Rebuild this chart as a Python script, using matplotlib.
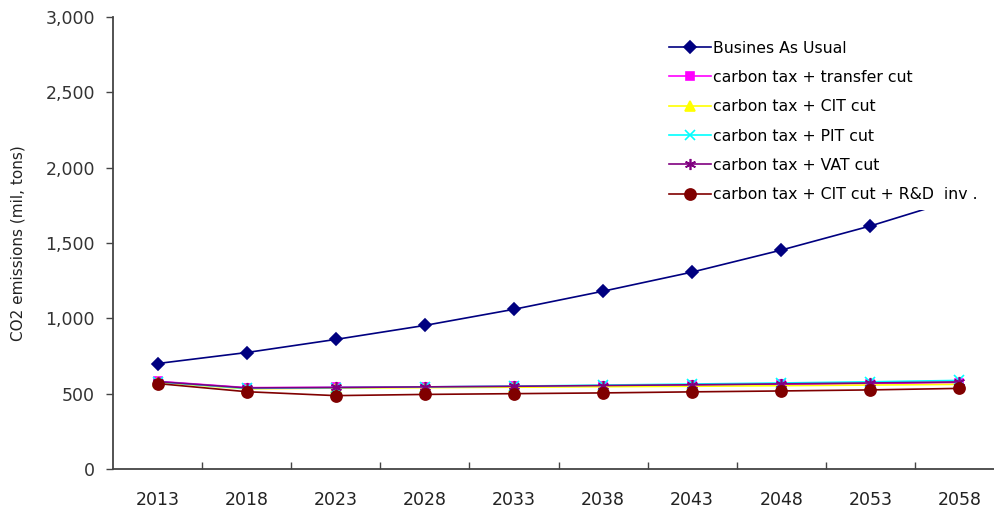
import matplotlib
matplotlib.use("Agg")
import matplotlib.pyplot as plt
import numpy as np

plt.rcParams['font.family'] = ['DejaVu Sans']

years = ["2013", "2018", "2023", "2028", "2033", "2038", "2043", "2048", "2053", "2058"]

bau = [700, 773, 860, 953, 1060, 1180, 1307, 1453, 1613, 1795]
transfer_cut = [582, 540, 542, 545, 548, 552, 556, 561, 567, 574]
cit_cut = [575, 532, 537, 540, 543, 546, 549, 553, 557, 562]
pit_cut = [578, 535, 540, 545, 550, 557, 564, 571, 579, 588]
vat_cut = [580, 538, 541, 545, 549, 554, 559, 565, 571, 578]
cit_rd = [567, 513, 487, 495, 500, 505, 512, 518, 525, 535]

series = [
    ("Busines As Usual", bau, "#000080", "D", 6),
    ("carbon tax + transfer cut", transfer_cut, "#FF00FF", "s", 6),
    ("carbon tax + CIT cut", cit_cut, "#FFFF00", "^", 7),
    ("carbon tax + PIT cut", pit_cut, "#00FFFF", "x", 7),
    ("carbon tax + VAT cut", vat_cut, "#800080", (6, 2, 0), 8),
    ("carbon tax + CIT cut + R&D  inv .", cit_rd, "#800000", "o", 8),
]

fig = plt.figure(figsize=(9.95, 5.08), dpi=100)
ax = fig.add_axes([113 / 995, 1 - 469 / 508, 891 / 995, 452 / 508])

x = np.arange(len(years))
for label, vals, color, marker, ms in series:
    ax.plot(x, vals, color=color, marker=marker, markersize=ms, linewidth=1.2,
            markeredgewidth=1.2, label=label)

ax.set_xlim(-0.5, len(years) - 0.5)
ax.set_ylim(0, 3000)
ax.set_yticks(np.arange(0, 3001, 500))
ax.set_yticklabels([f"{v:,}" for v in range(0, 3001, 500)])
ax.set_xticks(x)
ax.set_xticklabels(years)
ax.set_xticks(np.arange(0.5, len(years) - 0.5, 1), minor=True)
ax.tick_params(axis='x', which='major', length=0, pad=16, labelsize=12.5, colors='#222222')
ax.tick_params(axis='x', which='minor', length=5, width=1, color='#444444', direction='in')
ax.tick_params(axis='y', length=5, width=1, color='#444444', pad=8, labelsize=12.5,
               labelcolor='#333333')

for side in ("top", "right"):
    ax.spines[side].set_visible(False)
for side in ("left", "bottom"):
    ax.spines[side].set_color('#444444')
    ax.spines[side].set_linewidth(1.3)

ax.set_ylabel("CO2 emissions (mil, tons)", fontsize=11, color='#222222', labelpad=14)

leg = ax.legend(loc="upper left", bbox_to_anchor=(0.615, 0.965), fontsize=11.3,
                frameon=True, handlelength=2.7, handletextpad=0.1,
                labelspacing=0.91, borderpad=0.5, borderaxespad=0)
leg.get_frame().set_edgecolor('none')
leg.get_frame().set_facecolor('white')
leg.get_frame().set_alpha(1)

fig.savefig("out.png", dpi=100)
